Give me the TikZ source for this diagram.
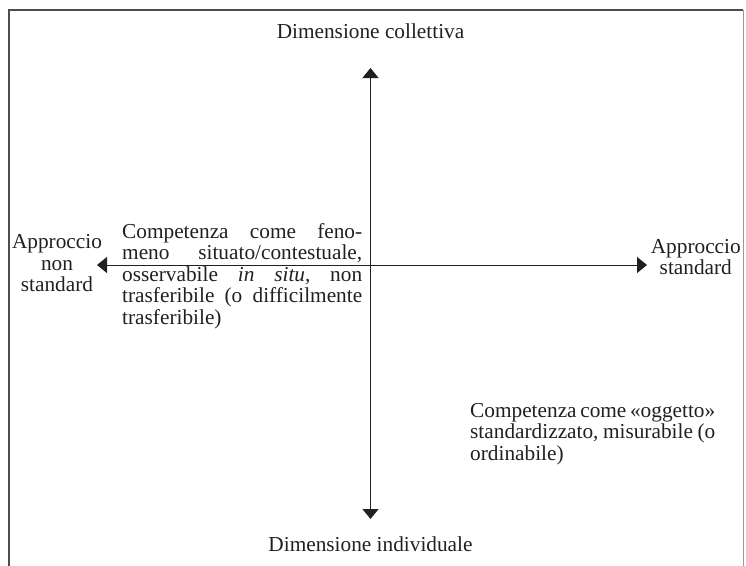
\documentclass[tikz,border=0pt]{standalone}
\usepackage{fontspec}
\setmainfont{Liberation Serif}
\usetikzlibrary{arrows.meta}
\definecolor{ink}{HTML}{231F20}
\definecolor{framedark}{HTML}{4D4D4D}
\definecolor{framelight}{HTML}{9A9A9A}
\newlength{\bw}\setlength{\bw}{240pt}
\newlength{\bwr}\setlength{\bwr}{245pt}
\newcommand{\gap}{\hskip 0.17em plus 1fill\relax}
\newcommand{\jl}[2][\bw]{\hbox to #1{#2}}
\newcommand{\lastl}[2][\bw]{\hbox to #1{#2\hfil}}
\newcommand{\ctrline}[1]{\hbox to 0pt{\hss#1\hss}}
\begin{document}
\begin{tikzpicture}[x=1pt,y=-1pt,
  txt/.style={font=\fontsize{21.3}{21.5}\selectfont, text=ink, inner sep=0pt},
  axisline/.style={draw=ink, line width=1pt,
    {Triangle[length=10pt,width=16pt]}-{Triangle[length=10pt,width=16pt]}},
  framedk/.style={draw=framedark, line width=1.4pt},
  framelt/.style={draw=framelight, line width=1pt}]
\useasboundingbox (0,0) rectangle (746,565);
% frame
\coordinate (fbl) at (9,566);
\coordinate (ftl) at (9,10);
\coordinate (ftr) at (743,10);
\coordinate (fbr) at (743,566);
\draw[framedk] (fbl) -- (ftl) -- (ftr);
\draw[framelt] (ftr) -- (fbr);
% axes
\coordinate (up) at (370.5,68);
\coordinate (dn) at (370.5,519);
\coordinate (lf) at (97,265);
\coordinate (rt) at (647,265);
\draw[axisline] (dn) -- (up);
\draw[axisline] (lf) -- (rt);
% labels
\node[txt, anchor=base] (dc) at (370.5,38.5) {Dimensione collettiva};
\node[txt, anchor=base] (di) at (370.5,551) {Dimensione individuale};
\node[txt, anchor=base] (ansl) at (57,248.5)
  {\vtop{\ctrline{Approccio}\ctrline{non}\ctrline{standard}}};
\node[txt, anchor=base] (asl) at (695.8,253)
  {\vtop{\ctrline{Approccio}\ctrline{standard}}};
\node[txt, anchor=base west] (cl) at (122,238)
  {\vtop{\jl{Competenza\gap come\gap feno-}%
         \jl{meno\gap situato/contestuale,}%
         \jl{osservabile\gap\textit{in}\gap\textit{situ},\gap non}%
         \jl{trasferibile\gap(o\gap difficilmente}%
         \lastl{trasferibile)}}};
\node[txt, anchor=base west] (cr) at (470,417)
  {\vtop{\jl[\bwr]{Competenza\gap come\gap «oggetto»}%
         \jl[\bwr]{standardizzato,\gap misurabile\gap(o}%
         \lastl[\bwr]{ordinabile)}}};
\end{tikzpicture}
\end{document}
